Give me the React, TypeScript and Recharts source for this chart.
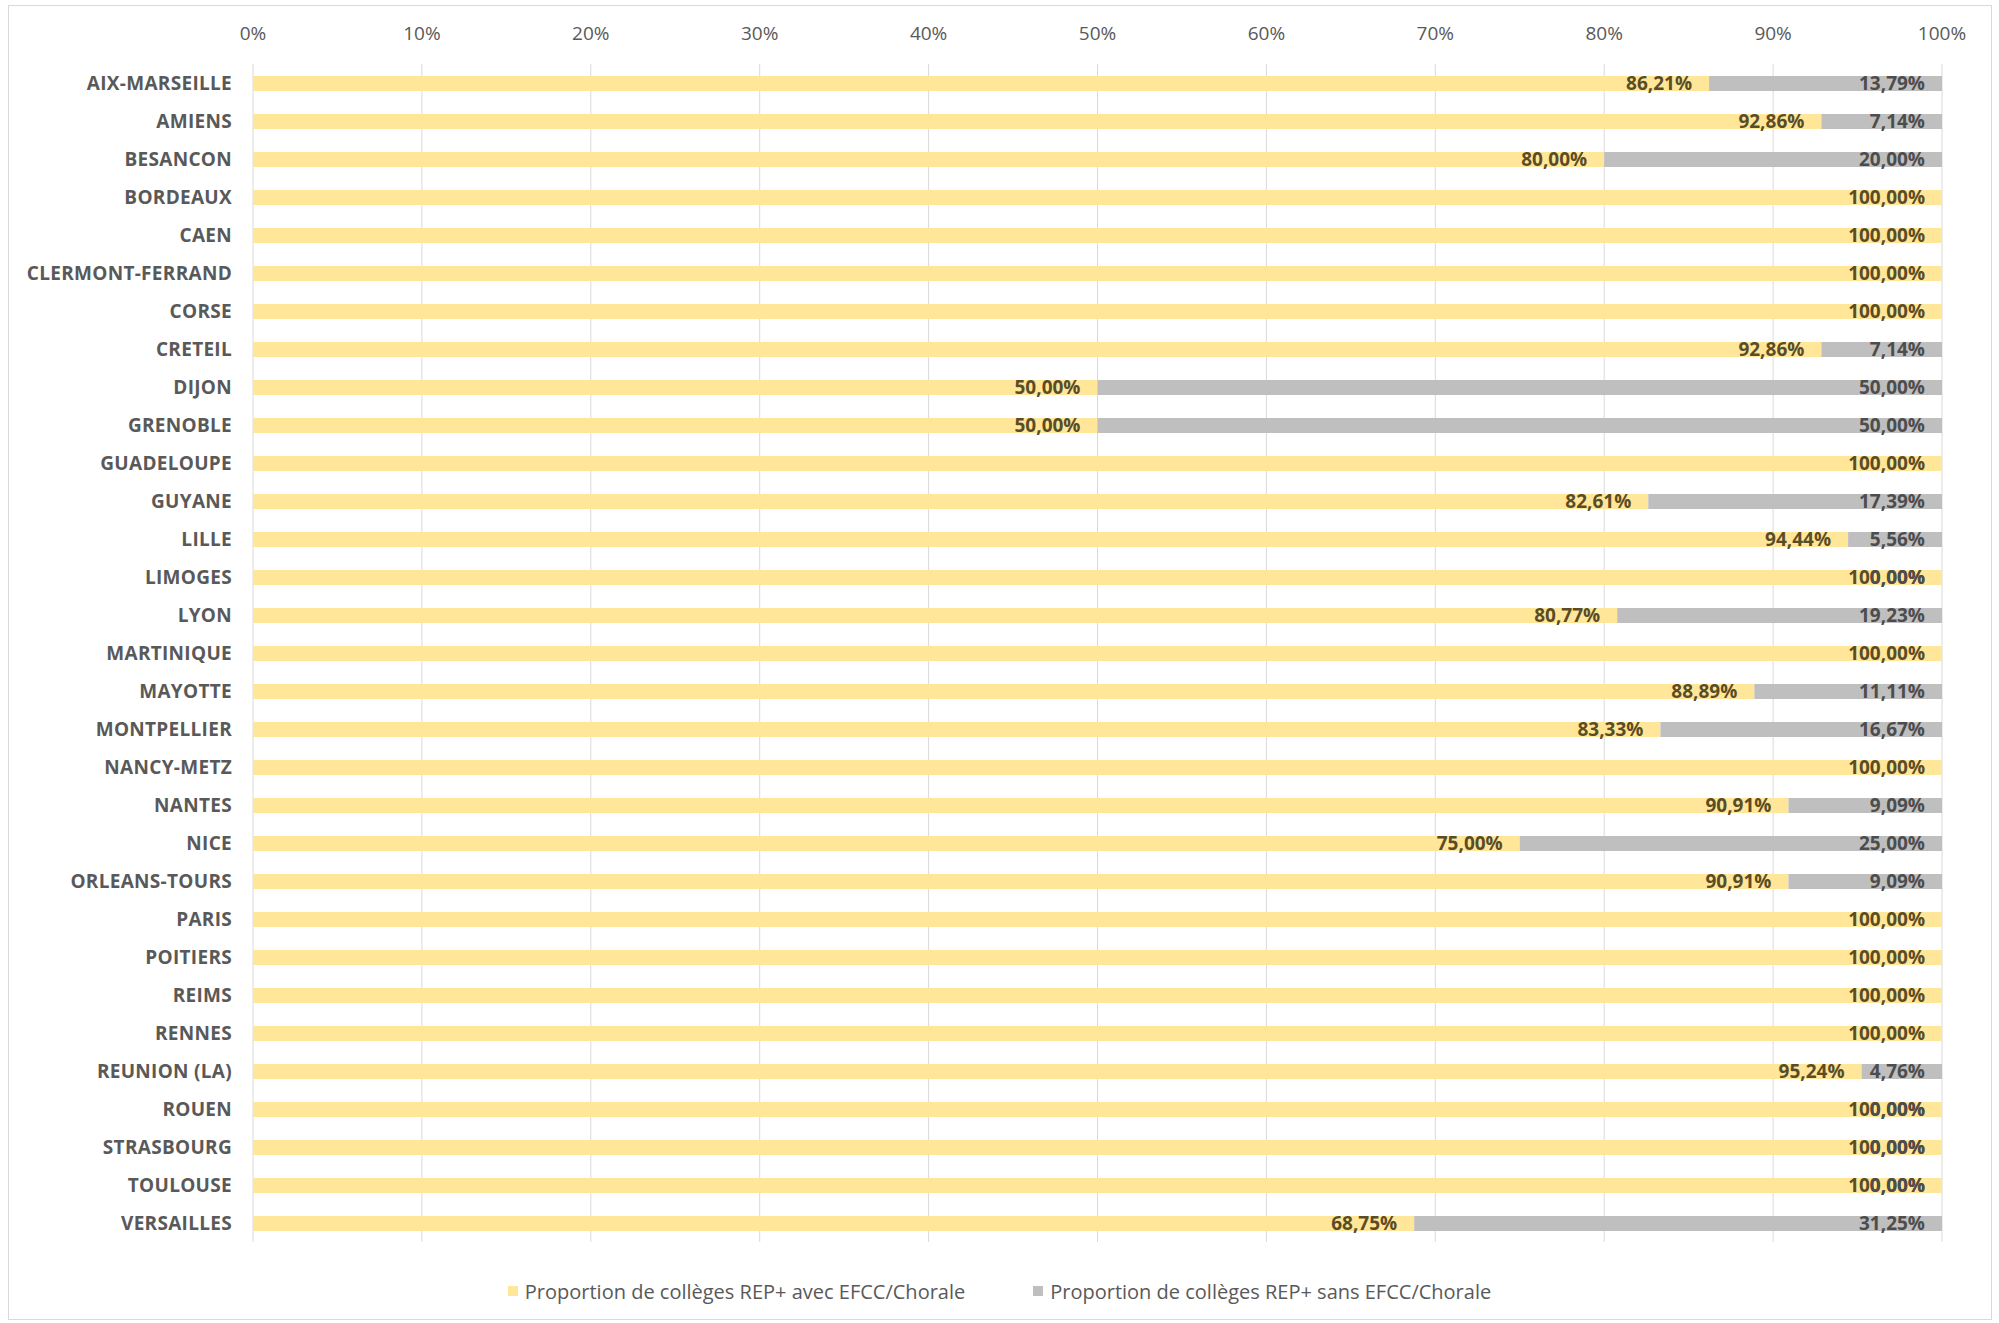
import React from 'react';
import { BarChart, Bar, XAxis, YAxis, CartesianGrid, Legend, LabelList } from 'recharts';

const categories = [
  'AIX-MARSEILLE', 'AMIENS', 'BESANCON', 'BORDEAUX', 'CAEN', 'CLERMONT-FERRAND', 'CORSE', 'CRETEIL',
  'DIJON', 'GRENOBLE', 'GUADELOUPE', 'GUYANE', 'LILLE', 'LIMOGES', 'LYON', 'MARTINIQUE', 'MAYOTTE',
  'MONTPELLIER', 'NANCY-METZ', 'NANTES', 'NICE', 'ORLEANS-TOURS', 'PARIS', 'POITIERS', 'REIMS',
  'RENNES', 'REUNION (LA)', 'ROUEN', 'STRASBOURG', 'TOULOUSE', 'VERSAILLES',
];

const withEfcc = [
  86.21, 92.86, 80.0, 100, 100, 100, 100, 92.86,
  50.0, 50.0, 100, 82.61, 94.44, 100, 80.77, 100, 88.89,
  83.33, 100, 90.91, 75.0, 90.91, 100, 100, 100,
  100, 95.24, 100, 100, 100, 68.75,
];

const withoutEfcc: (number | null)[] = [
  13.79, 7.14, 20.0, null, null, null, null, 7.14,
  50.0, 50.0, null, 17.39, 5.56, 0, 19.23, null, 11.11,
  16.67, null, 9.09, 25.0, 9.09, null, null, null,
  null, 4.76, 0, 0, 0, 31.25,
];

const xTicks = [0, 10, 20, 30, 40, 50, 60, 70, 80, 90, 100];

const seriesNames = [
  'Proportion de collèges REP+ avec EFCC/Chorale',
  'Proportion de collèges REP+ sans EFCC/Chorale',
];

const YELLOW = '#FFE699';
const GREY = '#BFBFBF';
const YELLOW_LABEL = '#5a4d26';
const GREY_LABEL = '#4d4d4d';

const data = categories.map((name, i) => ({
  name,
  avec: withEfcc[i],
  sans: withoutEfcc[i] ?? 0,
  sansLabel: withoutEfcc[i] === 0 ? null : withoutEfcc[i],
}));

const fmt = (v: any) => (v == null ? '' : `${Number(v).toFixed(2).replace('.', ',')}%`);

const LABEL_OFFSET = 17;
const LABEL_FONT = 19;

// Labels of the yellow series; when the grey share is exactly 0 its "0,00%" label
// sits at the same bar end (as in the reference, where both overlap).
const renderAvecLabel = (props: any) => {
  const { x, y, width, height, value, index } = props;
  const right = Number(x) + Number(width) - LABEL_OFFSET;
  const cy = Number(y) + Number(height) / 2;
  const zero = index != null && withoutEfcc[index] === 0;
  const common = {
    x: right,
    y: cy,
    dy: '0.355em',
    textAnchor: 'end' as const,
    fontSize: LABEL_FONT,
    fontWeight: 700,
  };
  return (
    <g>
      <text {...common} fill={YELLOW_LABEL}>{fmt(value)}</text>
      {zero && <text {...common} fill={GREY_LABEL}>{fmt(0)}</text>}
    </g>
  );
};

const renderLegend = () => (
  <div
    style={{
      height: 30,
      display: 'flex',
      justifyContent: 'center',
      alignItems: 'center',
      gap: 68,
      fontSize: 20,
      color: '#595959',
      fontFamily: 'Open Sans',
    }}
  >
    {[YELLOW, GREY].map((c, i) => (
      <div key={i} style={{ display: 'flex', alignItems: 'center' }}>
        <span style={{ display: 'inline-block', width: 10, height: 10, background: c, marginRight: 7 }} />
        <span>{seriesNames[i]}</span>
      </div>
    ))}
  </div>
);

export default function App() {
  return (
    <div style={{ position: 'absolute', left: 0, top: 0, width: 1999, height: 1323, background: '#fff', fontFamily: 'Open Sans' }}>
      <div
        style={{
          position: 'absolute',
          left: 8,
          top: 5,
          width: 1984,
          height: 1315,
          border: '1px solid #d9d9d9',
          boxSizing: 'border-box',
        }}
      />
      <div style={{ position: 'absolute', left: 0, top: 0 }}>
        <BarChart
          width={1999}
          height={1323}
          data={data}
          layout="vertical"
          margin={{ top: 0, right: 57, bottom: 51, left: 0 }}
          barSize={15}
        >
          <CartesianGrid horizontal={false} stroke="#d9d9d9" />
          <XAxis
            type="number"
            orientation="top"
            domain={[0, 100]}
            allowDataOverflow
            ticks={xTicks}
            tickFormatter={(v: number) => `${v}%`}
            height={64}
            tickSize={0}
            tickMargin={24}
            axisLine={false}
            tickLine={false}
            tick={{ fill: '#595959', fontSize: 19 }}
          />
          <YAxis
            type="category"
            dataKey="name"
            width={253}
            interval={0}
            tickSize={0}
            tickMargin={21}
            axisLine={false}
            tickLine={false}
            tick={{ fill: '#595959', fontSize: 19, fontWeight: 700, letterSpacing: 0.3 }}
          />
          <Legend
            verticalAlign="bottom"
            content={renderLegend}
            wrapperStyle={{ top: 1276, bottom: 'auto', left: 0, width: 1999 }}
          />
          <Bar dataKey="avec" stackId="a" fill={YELLOW} isAnimationActive={false} name={seriesNames[0]}>
            <LabelList dataKey="avec" content={renderAvecLabel} />
          </Bar>
          <Bar dataKey="sans" stackId="a" fill={GREY} isAnimationActive={false} name={seriesNames[1]}>
            <LabelList
              dataKey="sansLabel"
              position="insideRight"
              offset={LABEL_OFFSET}
              formatter={fmt}
              style={{ fill: GREY_LABEL, fontSize: LABEL_FONT, fontWeight: 700 }}
            />
          </Bar>
        </BarChart>
      </div>
    </div>
  );
}
